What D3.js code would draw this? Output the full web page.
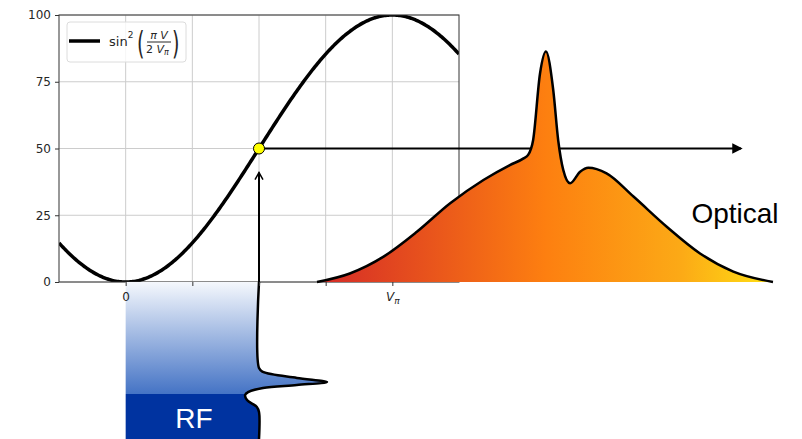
<!DOCTYPE html>
<html>
<head>
<meta charset="utf-8">
<script src="https://cdn.jsdelivr.net/npm/d3@7"></script>
<style>
  body { margin: 0; background: #fff; }
  text { font-family: "DejaVu Sans", sans-serif; }
</style>
</head>
<body>
<div id="chart"></div>
<script>
// ---- data ----
const yTicks = [0, 25, 50, 75, 100];
const xTicks = [0, 0.25, 0.5, 0.75, 1];
const xTickLabels = ["0", "", "", "", "Vπ"];

// modulator transfer function, sin^2(pi V / 2 Vpi) in %, V in units of Vpi
const voltage = d3.range(-0.25, 1.2501, 0.005);
const transmission = voltage.map(v => 100 * Math.pow(Math.sin(Math.PI * v / 2), 2));

// bias point
const biasV = 0.5, biasT = 50, arrowTop = 41;

// optical spectrum (relative frequency, power %)
const opticalFreq  = [-50, -42.8, -35.4, -28.1, -20.8, -13.5, -7.7, -4.7, -3.7, -2.6, -1.1, 0.2, 1.8, 2.9, 4.0, 5.5, 7.7, 9.5, 13.5, 19.4, 26.7, 34.0, 41.3, 50];
const opticalPower = [0, 3.2, 9.5, 18.8, 29.5, 38.2, 43.8, 46.3, 47.6, 53.2, 78, 86.3, 72, 53, 42, 37, 41.3, 42.8, 40.7, 32, 20.7, 10.7, 3.9, 0];

// RF drive signal (time runs downward, voltage in units of Vpi)
const rfTime    = [0, 54.8, 57.3, 61.1, 63.7, 65.6, 67.5, 70.1, 72, 75.2, 79.6, 82.8, 100];
const rfVoltage = [0.5, 0.5, 0.515, 0.642, 0.755, 0.642, 0.515, 0.459, 0.448, 0.455, 0.492, 0.5, 0.5];
const rfSplit = 71.5;

// ---- layout ----
const width = 802, height = 439;
const svg = d3.select("#chart").append("svg")
  .attr("width", width).attr("height", height);

const x = d3.scaleLinear().domain([-0.25, 1.25]).range([59, 459]);
const y = d3.scaleLinear().domain([0, 100]).range([282, 15]);
const xo = d3.scaleLinear().domain([-50, 50]).range([317, 773]);
const t = d3.scaleLinear().domain([0, 100]).range([282, 439]);

const defs = svg.append("defs");
defs.append("clipPath").attr("id", "axclip")
  .append("rect").attr("x", 59).attr("y", 15).attr("width", 400).attr("height", 267);

const optGrad = defs.append("linearGradient").attr("id", "optGrad")
  .attr("gradientUnits", "userSpaceOnUse")
  .attr("x1", xo(-50)).attr("x2", xo(50)).attr("y1", 0).attr("y2", 0);
[[0, "#d42a28"], [0.5, "#fd7f10"], [0.8, "#fcaa16"], [1, "#ffe014"]].forEach(s =>
  optGrad.append("stop").attr("offset", s[0]).attr("stop-color", s[1]));

const rfGrad = defs.append("linearGradient").attr("id", "rfGrad")
  .attr("gradientUnits", "userSpaceOnUse")
  .attr("x1", 0).attr("x2", 0).attr("y1", t(0)).attr("y2", t(100));
const split = rfSplit / 100;
[[0, "#f5f8fd"], [split, "#4473c5"], [split, "#0033a0"], [1, "#0033a0"]].forEach(s =>
  rfGrad.append("stop").attr("offset", s[0]).attr("stop-color", s[1]));

// gridlines
const grid = svg.append("g");
grid.selectAll(".gx").data(xTicks).join("line")
  .attr("x1", d => x(d)).attr("x2", d => x(d)).attr("y1", y(0)).attr("y2", y(100))
  .attr("stroke", "#cccccc").attr("stroke-width", 1);
grid.selectAll(".gy").data(yTicks).join("line")
  .attr("y1", d => y(d)).attr("y2", d => y(d)).attr("x1", 59).attr("x2", 459)
  .attr("stroke", "#cccccc").attr("stroke-width", 1);

// axes
const yAxis = svg.append("g").attr("transform", "translate(59,0)")
  .call(d3.axisLeft(y).tickValues(yTicks).tickSize(4).tickPadding(4));
const xAxis = svg.append("g").attr("transform", `translate(0,${y(0)})`)
  .call(d3.axisBottom(x).tickValues(xTicks).tickSize(4).tickPadding(6).tickFormat((d, i) => xTickLabels[i]));
[yAxis, xAxis].forEach(a => {
  a.select(".domain").remove();
  a.selectAll("line").attr("stroke", "#333");
  a.selectAll("text").attr("fill", "#262626").style("font-size", "12px")
    .style("font-family", "DejaVu Sans, sans-serif");
});
// V_pi label
xAxis.selectAll("text").filter((d, i) => xTickLabels[i] === "Vπ").text(null)
  .each(function () {
    const s = d3.select(this);
    s.append("tspan").attr("font-style", "italic").text("V");
    s.append("tspan").attr("font-style", "italic").attr("font-size", "9px").attr("dy", 3).text("π");
  });

// transfer curve
svg.append("path")
  .datum(voltage.map((v, i) => [v, transmission[i]]))
  .attr("clip-path", "url(#axclip)")
  .attr("fill", "none").attr("stroke", "#000").attr("stroke-width", 3.5)
  .attr("d", d3.line().x(d => x(d[0])).y(d => y(d[1])));

// spines
svg.append("rect").attr("x", 59).attr("y", 15).attr("width", 400).attr("height", 267)
  .attr("fill", "none").attr("stroke", "#333").attr("stroke-width", 1);

// legend
const lg = svg.append("g");
lg.append("rect").attr("x", 67).attr("y", 22).attr("width", 119).attr("height", 40).attr("rx", 3)
  .attr("fill", "#fff").attr("fill-opacity", 0.8).attr("stroke", "#dcdcdc");
lg.append("line").attr("x1", 69).attr("x2", 100).attr("y1", 41).attr("y2", 41)
  .attr("stroke", "#000").attr("stroke-width", 3.5);
const sinText = lg.append("text").attr("x", 109).attr("y", 46).attr("font-size", 13).attr("fill", "#262626");
sinText.append("tspan").text("sin");
sinText.append("tspan").attr("font-size", 9).attr("dy", -8).text("2");
lg.append("text").attr("transform", "translate(137,54) scale(0.6,1)").attr("font-size", 32)
  .attr("fill", "#262626").text("(");
lg.append("text").attr("transform", "translate(172,54) scale(0.6,1)").attr("font-size", 32)
  .attr("fill", "#262626").text(")");
lg.append("text").attr("x", 159).attr("y", 39).attr("text-anchor", "middle").attr("font-size", 11)
  .attr("font-style", "italic").attr("fill", "#262626").text("π V");
lg.append("line").attr("x1", 147).attr("x2", 171).attr("y1", 42).attr("y2", 42)
  .attr("stroke", "#262626").attr("stroke-width", 1);
const den = lg.append("text").attr("x", 146).attr("y", 53).attr("font-size", 11).attr("fill", "#262626");
den.append("tspan").text("2 ");
den.append("tspan").attr("font-style", "italic").text("V");
den.append("tspan").attr("font-style", "italic").attr("font-size", 8).attr("dy", 2).text("π");

// arrows
svg.append("line").attr("x1", x(biasV)).attr("x2", 741).attr("y1", y(biasT)).attr("y2", y(biasT))
  .attr("stroke", "#000").attr("stroke-width", 2);
svg.append("path").attr("d", `M${741 - 8},${y(biasT) - 4} L741,${y(biasT)} L${741 - 8},${y(biasT) + 4} Z`)
  .attr("fill", "#000").attr("stroke", "#000").attr("stroke-width", 1.5).attr("stroke-linejoin", "miter");
svg.append("line").attr("x1", x(biasV)).attr("x2", x(biasV)).attr("y1", y(0)).attr("y2", y(arrowTop))
  .attr("stroke", "#000").attr("stroke-width", 2);
svg.append("path").attr("d", `M${x(biasV) - 4},${y(arrowTop) + 7} L${x(biasV)},${y(arrowTop)} L${x(biasV) + 4},${y(arrowTop) + 7}`)
  .attr("fill", "none").attr("stroke", "#000").attr("stroke-width", 1.5);

// bias point
svg.append("circle").attr("cx", x(biasV)).attr("cy", y(biasT)).attr("r", 5.5)
  .attr("fill", "#ffff00").attr("stroke", "#000").attr("stroke-width", 1);

// RF signal
const rf = rfTime.map((d, i) => ({ t: d, v: rfVoltage[i] }));
svg.append("path").datum(rf)
  .attr("fill", "url(#rfGrad)")
  .attr("d", d3.area().curve(d3.curveCatmullRom)
    .y(d => t(d.t)).x0(x(0)).x1(d => x(d.v)));
svg.append("path").datum(rf)
  .attr("fill", "none").attr("stroke", "#000").attr("stroke-width", 2.5)
  .attr("d", d3.line().curve(d3.curveCatmullRom).x(d => x(d.v)).y(d => t(d.t)));
svg.append("text").attr("x", 194).attr("y", 428).attr("text-anchor", "middle")
  .attr("fill", "#fff").attr("font-size", 28).style("font-family", "Liberation Sans, Arial, sans-serif")
  .text("RF");

// optical spectrum
const opt = opticalFreq.map((d, i) => ({ f: d, p: opticalPower[i] }));
svg.append("path").datum(opt)
  .attr("fill", "url(#optGrad)")
  .attr("d", d3.area().curve(d3.curveMonotoneX).x(d => xo(d.f)).y0(y(0)).y1(d => y(d.p)));
svg.append("path").datum(opt)
  .attr("fill", "none").attr("stroke", "#000").attr("stroke-width", 2.5)
  .attr("d", d3.line().curve(d3.curveMonotoneX).x(d => xo(d.f)).y(d => y(d.p)));
svg.append("text").attr("x", 735).attr("y", 223).attr("text-anchor", "middle")
  .attr("fill", "#000").attr("font-size", 28).style("font-family", "Liberation Sans, Arial, sans-serif")
  .text("Optical");

// tick labels stay readable over the RF fill
xAxis.raise();
</script>
</body>
</html>
